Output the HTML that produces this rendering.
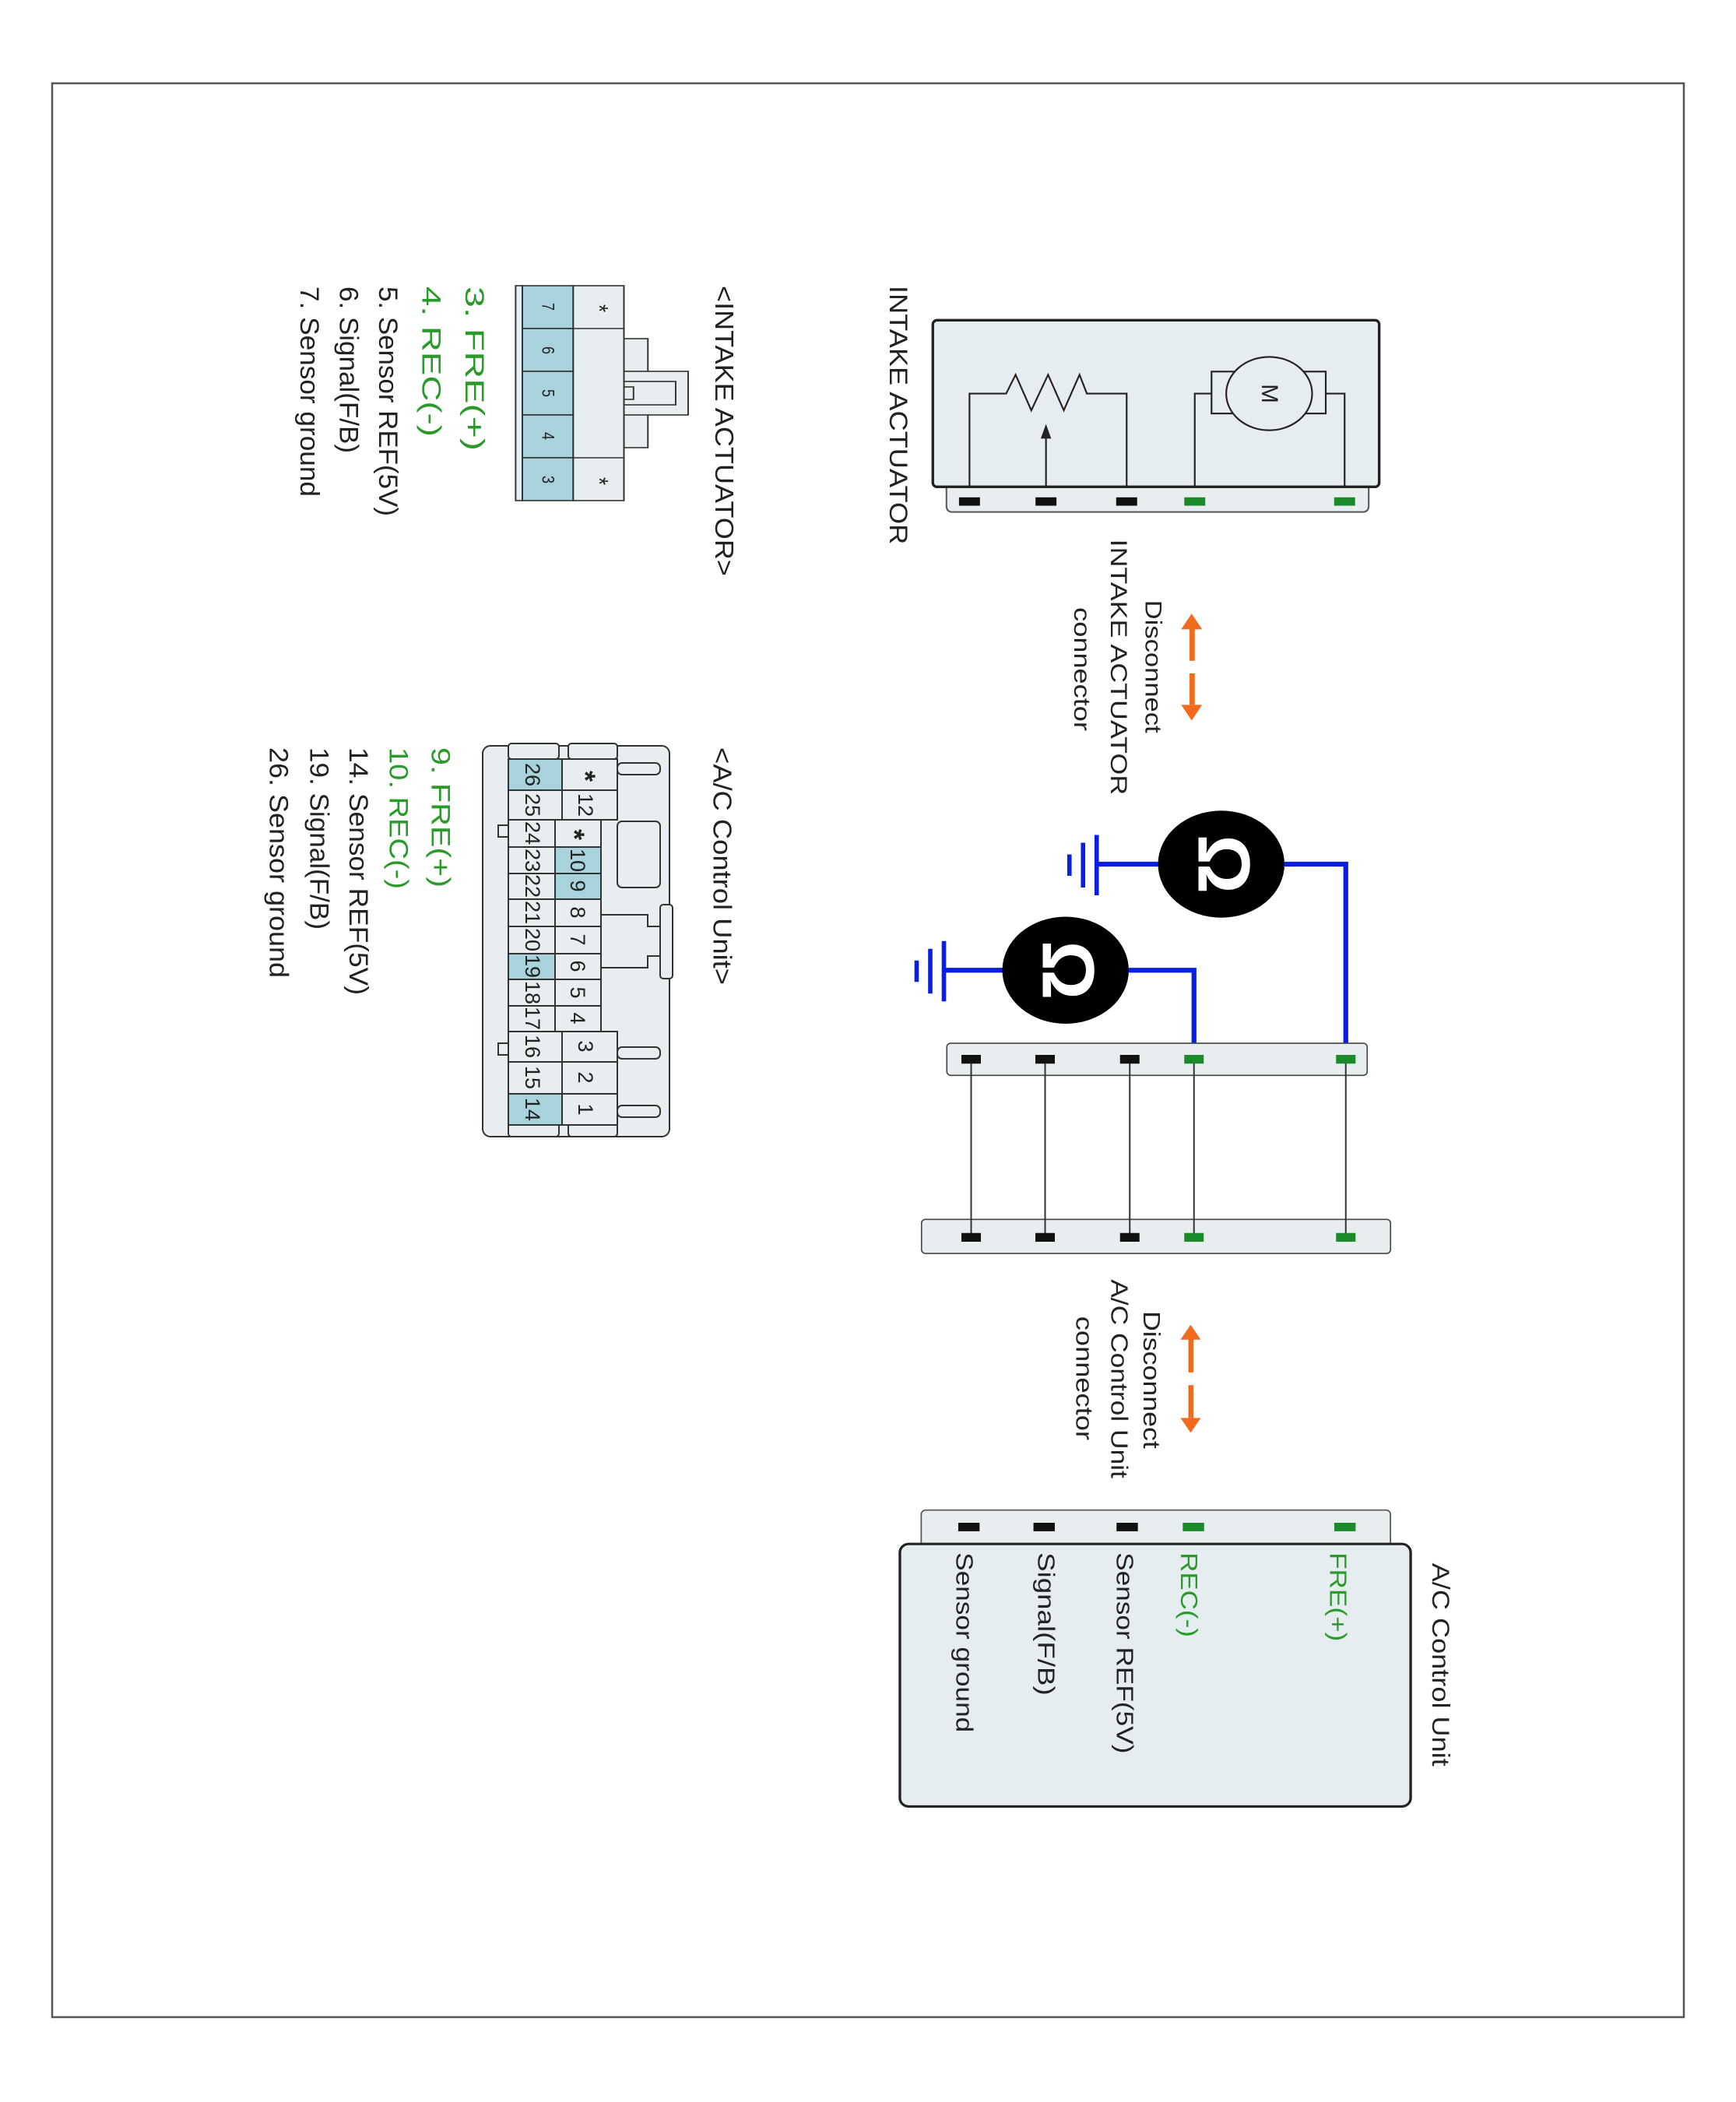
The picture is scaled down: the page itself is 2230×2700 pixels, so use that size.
<!DOCTYPE html>
<html><head><meta charset="utf-8"><style>
html,body{margin:0;padding:0;background:#fff;}
svg{display:block;}
text{font-family:"Liberation Sans",Arial,sans-serif;}
</style></head><body>
<svg width="2230" height="2700" viewBox="0 0 2230 2700" xmlns="http://www.w3.org/2000/svg">
<rect x="67" y="107" width="2096" height="2484" fill="#fff" stroke="#555" stroke-width="2.5"/>

<g transform="translate(1100,340) scale(1.346) translate(-1100,-340)">
<path d="M1186,552 L1589,552 L1589,570 Q1589,576 1583,576 L1192,576 Q1186,576 1186,570 Z" fill="#e8eef0" stroke="#555" stroke-width="1.5"/>
<rect x="1173" y="393" width="426" height="159" rx="4" fill="#e6edf0" stroke="#222" stroke-width="2.5"/>
<g fill="none" stroke="#222" stroke-width="1.6">
<polyline points="1208,552 1208,463 1243,463 1252,445 1267,479 1283,445 1298,479 1313,445 1320,463 1358,463 1358,552"/>
<line x1="1281" y1="552" x2="1281" y2="503"/>
<polyline points="1423,552 1423,463 1439,463"/>
<polyline points="1566,552 1566,463 1548,463"/>
<rect x="1439" y="442" width="109" height="40" fill="#e6edf0"/>
<ellipse cx="1494" cy="463" rx="41" ry="35" fill="#e6edf0"/>
</g>
<polygon points="1281,492 1276,506 1286,506" fill="#222"/>
<text transform="translate(1494,463) rotate(90)" text-anchor="middle" dominant-baseline="central" font-size="22" fill="#222">M</text>
<g fill="#111"><rect x="1198" y="562" width="20" height="8"/><rect x="1271" y="562" width="20" height="8"/><rect x="1348" y="562" width="20" height="8"/></g>
<g fill="#1a8a2a"><rect x="1413" y="562" width="20" height="8"/><rect x="1556" y="562" width="20" height="8"/></g>
<text transform="translate(1140,360) rotate(90)" dominant-baseline="central" font-size="24" fill="#222" textLength="247" lengthAdjust="spacingAndGlyphs">INTAKE ACTUATOR</text>

<text transform="translate(1383,660) rotate(90)" dominant-baseline="central" font-size="22" fill="#222" textLength="127" lengthAdjust="spacingAndGlyphs">Disconnect</text>
<text transform="translate(1350,602) rotate(90)" dominant-baseline="central" font-size="22" fill="#222" textLength="244" lengthAdjust="spacingAndGlyphs">INTAKE ACTUATOR</text>
<text transform="translate(1315,667) rotate(90)" dominant-baseline="central" font-size="22" fill="#222" textLength="118" lengthAdjust="spacingAndGlyphs">connector</text>
<g fill="#f26a1b"><polygon points="1420,673 1410,688 1430,688"/><rect x="1418" y="687" width="5" height="31"/><rect x="1418" y="730" width="5" height="30"/><polygon points="1420,775 1410,760 1430,760"/></g>
</g>

<g transform="translate(1150,1000) scale(1.25) translate(-1150,-1000)">
<g stroke="#0a1ee0" stroke-width="5" fill="none">
<polyline points="1550,1088 1613,1088 1613,1288"/>
<line x1="1357" y1="1088" x2="1420" y2="1088"/>
<polyline points="1390,1197 1457,1197 1457,1288"/>
<line x1="1200" y1="1197" x2="1262" y2="1197"/>
</g>
<g stroke="#0a1ee0" stroke-width="4.5">
<line x1="1357" y1="1058" x2="1357" y2="1120"/><line x1="1343" y1="1066" x2="1343" y2="1112"/><line x1="1329" y1="1078" x2="1329" y2="1100"/>
<line x1="1200" y1="1167" x2="1200" y2="1229"/><line x1="1186" y1="1175" x2="1186" y2="1221"/><line x1="1172" y1="1187" x2="1172" y2="1209"/>
</g>
<ellipse cx="1485" cy="1088" rx="65" ry="55" fill="#000"/>
<ellipse cx="1325" cy="1197" rx="65" ry="55" fill="#000"/>
<text transform="translate(1487,1088) rotate(90)" text-anchor="middle" dominant-baseline="central" font-size="76" font-weight="bold" fill="#fff">Ω</text>
<text transform="translate(1327,1197) rotate(90)" text-anchor="middle" dominant-baseline="central" font-size="76" font-weight="bold" fill="#fff">Ω</text>

<rect x="1203" y="1272" width="432" height="33" rx="4" fill="#e8eef0" stroke="#444" stroke-width="1.3"/>
<rect x="1177" y="1453" width="482" height="35" rx="4" fill="#e8eef0" stroke="#444" stroke-width="1.3"/>
<g stroke="#333" stroke-width="1.6">
<line x1="1228" y1="1288" x2="1228" y2="1471"/><line x1="1304" y1="1288" x2="1304" y2="1471"/><line x1="1391" y1="1288" x2="1391" y2="1471"/><line x1="1457" y1="1288" x2="1457" y2="1471"/><line x1="1613" y1="1288" x2="1613" y2="1471"/>
</g>
<g fill="#111"><rect x="1218" y="1284" width="20" height="9"/><rect x="1294" y="1284" width="20" height="9"/><rect x="1381" y="1284" width="20" height="9"/>
<rect x="1218" y="1467" width="20" height="9"/><rect x="1294" y="1467" width="20" height="9"/><rect x="1381" y="1467" width="20" height="9"/></g>
<g fill="#1a8a2a"><rect x="1447" y="1284" width="20" height="9"/><rect x="1603" y="1284" width="20" height="9"/>
<rect x="1447" y="1467" width="20" height="9"/><rect x="1603" y="1467" width="20" height="9"/></g>
</g>

<g transform="translate(1130,1650) scale(1.442,1.36) translate(-1130,-1650)">
<text transform="translate(1372,1675) rotate(90)" dominant-baseline="central" font-size="21" fill="#222" textLength="130" lengthAdjust="spacingAndGlyphs">Disconnect</text>
<text transform="translate(1343,1645) rotate(90)" dominant-baseline="central" font-size="21" fill="#222" textLength="188" lengthAdjust="spacingAndGlyphs">A/C Control Unit</text>
<text transform="translate(1312,1680) rotate(90)" dominant-baseline="central" font-size="21" fill="#222" textLength="117" lengthAdjust="spacingAndGlyphs">connector</text>
<g fill="#f26a1b"><polygon points="1407,1688 1398,1702 1416,1702"/><rect x="1405" y="1701" width="4.5" height="32"/><rect x="1405" y="1745" width="4.5" height="31"/><polygon points="1407,1790 1398,1776 1416,1776"/></g>

<rect x="1167" y="1863" width="418" height="40" rx="4" fill="#e8eef0" stroke="#555" stroke-width="1.2"/>
<g fill="#111"><rect x="1200" y="1875" width="19" height="8"/><rect x="1267" y="1875" width="19" height="8"/><rect x="1341" y="1875" width="19" height="8"/></g>
<g fill="#1a8a2a"><rect x="1400" y="1875" width="19" height="8"/><rect x="1535" y="1875" width="19" height="8"/></g>
<rect x="1148" y="1895" width="455" height="248" rx="8" fill="#e6edf0" stroke="#222" stroke-width="2.3"/>
<text transform="translate(1538,1903) rotate(90)" dominant-baseline="central" font-size="21" fill="#2a9a2a" textLength="84" lengthAdjust="spacingAndGlyphs">FRE(+)</text>
<text transform="translate(1405,1903) rotate(90)" dominant-baseline="central" font-size="21" fill="#2a9a2a" textLength="80" lengthAdjust="spacingAndGlyphs">REC(-)</text>
<text transform="translate(1348,1903) rotate(90)" dominant-baseline="central" font-size="21" fill="#222" textLength="190" lengthAdjust="spacingAndGlyphs">Sensor REF(5V)</text>
<text transform="translate(1278,1903) rotate(90)" dominant-baseline="central" font-size="21" fill="#222" textLength="135" lengthAdjust="spacingAndGlyphs">Signal(F/B)</text>
<text transform="translate(1205,1903) rotate(90)" dominant-baseline="central" font-size="21" fill="#222" textLength="170" lengthAdjust="spacingAndGlyphs">Sensor ground</text>
<text transform="translate(1630,1913) rotate(90)" dominant-baseline="central" font-size="22" fill="#222" textLength="192" lengthAdjust="spacingAndGlyphs">A/C Control Unit</text>
</g>

<g transform="translate(330,340) scale(1.231,1) translate(-330,-340)">
<text transform="translate(817,367) rotate(90)" dominant-baseline="central" font-size="27" fill="#222" textLength="373" lengthAdjust="spacingAndGlyphs">&lt;INTAKE ACTUATOR&gt;</text>
<g stroke="#333" stroke-width="1.6" fill="#e8eef0">
<rect x="713" y="435" width="25" height="140"/>
<rect x="713" y="477" width="67" height="56"/>
<rect x="713" y="490" width="54" height="30"/>
<rect x="713" y="497" width="10" height="16"/>
<rect x="600" y="367" width="7" height="276"/>
<rect x="660" y="367" width="53" height="276"/>
<line x1="660" y1="422" x2="713" y2="422"/><line x1="660" y1="588" x2="713" y2="588"/>
</g>
<g stroke="#333" stroke-width="1.6" fill="#a9d3dc">
<rect x="607" y="367" width="53" height="55"/><rect x="607" y="422" width="53" height="55"/><rect x="607" y="477" width="53" height="56"/><rect x="607" y="533" width="53" height="55"/><rect x="607" y="588" width="53" height="55"/>
</g>
<g font-size="18" fill="#222" text-anchor="middle" dominant-baseline="central">
<text transform="translate(633,394) rotate(90)">7</text><text transform="translate(633,450) rotate(90)">6</text><text transform="translate(633,505) rotate(90)">5</text><text transform="translate(633,560) rotate(90)">4</text><text transform="translate(633,616) rotate(90)">3</text>
<text transform="translate(686,396) rotate(90)" font-size="26">*</text><text transform="translate(686,618) rotate(90)" font-size="26">*</text>
</g>
<g font-size="28" dominant-baseline="central">
<text transform="translate(557,368) rotate(90)" fill="#2a9a2a" textLength="211" lengthAdjust="spacingAndGlyphs">3. FRE(+)</text>
<text transform="translate(512,368) rotate(90)" fill="#2a9a2a" textLength="193" lengthAdjust="spacingAndGlyphs">4. REC(-)</text>
<text transform="translate(467,368) rotate(90)" fill="#222" textLength="295" lengthAdjust="spacingAndGlyphs">5. Sensor REF(5V)</text>
<text transform="translate(426,368) rotate(90)" fill="#222" textLength="214" lengthAdjust="spacingAndGlyphs">6. Signal(F/B)</text>
<text transform="translate(385,368) rotate(90)" fill="#222" textLength="270" lengthAdjust="spacingAndGlyphs">7. Sensor ground</text>
</g>
</g>

<g transform="translate(320,940) scale(1.231,1) translate(-320,-940)">
<text transform="translate(813,960) rotate(90)" dominant-baseline="central" font-size="27" fill="#222" textLength="305" lengthAdjust="spacingAndGlyphs">&lt;A/C Control Unit&gt;</text>
<g font-size="28" dominant-baseline="central">
<text transform="translate(520,960) rotate(90)" fill="#2a9a2a" textLength="180" lengthAdjust="spacingAndGlyphs">9. FRE(+)</text>
<text transform="translate(476,960) rotate(90)" fill="#2a9a2a" textLength="182" lengthAdjust="spacingAndGlyphs">10. REC(-)</text>
<text transform="translate(434,960) rotate(90)" fill="#222" textLength="318" lengthAdjust="spacingAndGlyphs">14. Sensor REF(5V)</text>
<text transform="translate(393,960) rotate(90)" fill="#222" textLength="234" lengthAdjust="spacingAndGlyphs">19. Signal(F/B)</text>
<text transform="translate(351,960) rotate(90)" fill="#222" textLength="296" lengthAdjust="spacingAndGlyphs">26. Sensor ground</text>
</g>
</g>

<g stroke="#333" stroke-width="2" fill="#e8eef0">
<rect x="620" y="958" width="240" height="502" rx="10"/>
<rect x="793" y="980" width="55" height="15" rx="6"/>
<rect x="793" y="1055" width="55" height="85" rx="6"/>
<rect x="793" y="1345" width="55" height="15" rx="6"/>
<rect x="793" y="1420" width="55" height="15" rx="6"/>
<rect x="848" y="1162" width="16" height="95" rx="4"/>
<polyline points="772,1175 832,1175 832,1190 848,1190 848,1228 832,1228 832,1243 772,1243" />
<rect x="640" y="1060" width="13" height="15"/>
<rect x="640" y="1340" width="13" height="15"/>
<rect x="653" y="955" width="65" height="20" rx="4"/>
<rect x="730" y="955" width="63" height="20" rx="4"/>
<rect x="653" y="1443" width="65" height="17" rx="4"/>
<rect x="730" y="1443" width="63" height="17" rx="4"/>
</g>
<g stroke="#333" stroke-width="2">
<rect x="653" y="975" width="69" height="40" fill="#a9d3dc"/>
<rect x="653" y="1015" width="69" height="38" fill="#e8eef0"/>
<rect x="653" y="1053" width="60" height="35" fill="#e8eef0"/>
<rect x="653" y="1088" width="60" height="34" fill="#e8eef0"/>
<rect x="653" y="1122" width="60" height="33" fill="#e8eef0"/>
<rect x="653" y="1155" width="60" height="35" fill="#e8eef0"/>
<rect x="653" y="1190" width="60" height="35" fill="#e8eef0"/>
<rect x="653" y="1225" width="60" height="33" fill="#a9d3dc"/>
<rect x="653" y="1258" width="60" height="34" fill="#e8eef0"/>
<rect x="653" y="1292" width="60" height="33" fill="#e8eef0"/>
<rect x="653" y="1325" width="69" height="39" fill="#e8eef0"/>
<rect x="653" y="1364" width="69" height="41" fill="#e8eef0"/>
<rect x="653" y="1405" width="69" height="40" fill="#a9d3dc"/>
<rect x="722" y="975" width="71" height="40" fill="#e8eef0"/>
<rect x="722" y="1015" width="71" height="38" fill="#e8eef0"/>
<rect x="713" y="1053" width="59" height="35" fill="#e8eef0"/>
<rect x="713" y="1088" width="59" height="34" fill="#a9d3dc"/>
<rect x="713" y="1122" width="59" height="33" fill="#a9d3dc"/>
<rect x="713" y="1155" width="59" height="35" fill="#e8eef0"/>
<rect x="713" y="1190" width="59" height="35" fill="#e8eef0"/>
<rect x="713" y="1225" width="59" height="33" fill="#e8eef0"/>
<rect x="713" y="1258" width="59" height="34" fill="#e8eef0"/>
<rect x="713" y="1292" width="59" height="33" fill="#e8eef0"/>
<rect x="722" y="1325" width="71" height="39" fill="#e8eef0"/>
<rect x="722" y="1364" width="71" height="41" fill="#e8eef0"/>
<rect x="722" y="1405" width="71" height="40" fill="#e8eef0"/>
</g>
<g font-size="27" fill="#222" text-anchor="middle" dominant-baseline="central">
<text transform="translate(684,995) rotate(90)">26</text>
<text transform="translate(684,1034) rotate(90)">25</text>
<text transform="translate(684,1070) rotate(90)">24</text>
<text transform="translate(684,1105) rotate(90)">23</text>
<text transform="translate(684,1138) rotate(90)">22</text>
<text transform="translate(684,1172) rotate(90)">21</text>
<text transform="translate(684,1207) rotate(90)">20</text>
<text transform="translate(684,1241) rotate(90)">19</text>
<text transform="translate(684,1275) rotate(90)">18</text>
<text transform="translate(684,1308) rotate(90)">17</text>
<text transform="translate(684,1344) rotate(90)">16</text>
<text transform="translate(684,1384) rotate(90)">15</text>
<text transform="translate(684,1425) rotate(90)">14</text>
<text transform="translate(752,997) rotate(90)" font-size="36" font-weight="bold">*</text>
<text transform="translate(752,1034) rotate(90)">12</text>
<text transform="translate(738,1072) rotate(90)" font-size="36" font-weight="bold">*</text>
<text transform="translate(742,1105) rotate(90)">10</text>
<text transform="translate(742,1138) rotate(90)">9</text>
<text transform="translate(742,1172) rotate(90)">8</text>
<text transform="translate(742,1207) rotate(90)">7</text>
<text transform="translate(742,1241) rotate(90)">6</text>
<text transform="translate(742,1275) rotate(90)">5</text>
<text transform="translate(742,1308) rotate(90)">4</text>
<text transform="translate(752,1344) rotate(90)">3</text>
<text transform="translate(752,1384) rotate(90)">2</text>
<text transform="translate(752,1425) rotate(90)">1</text>
</g>
</svg>
</body></html>
